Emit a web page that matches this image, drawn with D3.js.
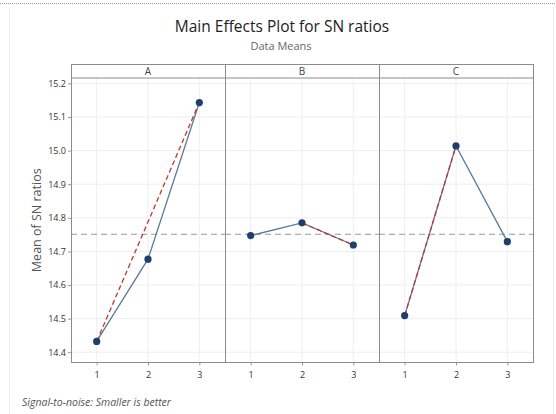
<!DOCTYPE html>
<html>
<head>
<meta charset="utf-8">
<script src="https://cdn.jsdelivr.net/npm/d3@7"></script>
<style>
  body { margin: 0; background: #fff; }
  text { font-family: "Open Sans", "Noto Sans", sans-serif; }
</style>
</head>
<body>
<div id="chart"></div>
<script>
// factors and levels
const factors = ["A", "B", "C"];
const levels = ["1", "2", "3"];

// mean SN ratio per level
const snA = [14.432, 14.677, 15.143];
const snB = [14.747, 14.785, 14.719];
const snC = [14.509, 15.014, 14.729];
const overallMean = 14.751;

// red dashed hand-drawn segments (from level, to level) per factor
const redSegA = ["1", "3"];
const redSegB = ["2", "3"];
const redSegC = ["1", "2"];

const yTicks = [14.4, 14.5, 14.6, 14.7, 14.8, 14.9, 15.0, 15.1, 15.2];

const width = 556, height = 414;
const left = 71, right = 533, stripTop = 64.5, plotTop = 78, plotBottom = 362.5;

const svg = d3.select("#chart").append("svg")
  .attr("width", width)
  .attr("height", height);

// outer frame bits
svg.append("line")
  .attr("x1", 0).attr("x2", width).attr("y1", 3.5).attr("y2", 3.5)
  .attr("stroke", "#999").attr("stroke-dasharray", "1,1");
svg.append("line")
  .attr("x1", 9.5).attr("x2", 9.5).attr("y1", 7).attr("y2", height)
  .attr("stroke", "#eee");
svg.append("line")
  .attr("x1", 553.5).attr("x2", 553.5).attr("y1", 7).attr("y2", height)
  .attr("stroke", "#eee");

const yScale = d3.scaleLinear()
  .domain([14.4 - 10.5 / 343, 15.2 + 5.5 / 343])
  .range([plotBottom, plotTop]);

const panel = d3.scaleBand()
  .domain(factors)
  .range([left, right]);

const xScale = d3.scalePoint()
  .domain(levels)
  .range([0, panel.bandwidth()])
  .padding(0.5);

const data = [
  { f: "A", vals: snA, red: redSegA },
  { f: "B", vals: snB, red: redSegB },
  { f: "C", vals: snC, red: redSegC }
];

// titles
svg.append("text")
  .attr("x", 282).attr("y", 32)
  .attr("text-anchor", "middle")
  .attr("font-size", 15.5)
  .attr("font-weight", 500)
  .attr("fill", "#222")
  .text("Main Effects Plot for SN ratios");

svg.append("text")
  .attr("x", 281).attr("y", 50)
  .attr("text-anchor", "middle")
  .attr("font-size", 11)
  .attr("fill", "#666")
  .text("Data Means");

svg.append("text")
  .attr("transform", `translate(41, ${(plotTop + plotBottom) / 2}) rotate(-90)`)
  .attr("text-anchor", "middle")
  .attr("font-size", 12.5)
  .attr("fill", "#555")
  .text("Mean of SN ratios");

svg.append("text")
  .attr("x", 22).attr("y", 406)
  .attr("font-size", 10.5)
  .attr("font-style", "italic")
  .attr("fill", "#555")
  .text("Signal-to-noise: Smaller is better");

// y axis
const yAxis = svg.append("g")
  .attr("transform", `translate(${left}, 0)`)
  .call(d3.axisLeft(yScale).tickValues(yTicks).tickFormat(d3.format(".1f")).tickSize(3));
yAxis.select(".domain").remove();
yAxis.selectAll("line").attr("stroke", "#999");
yAxis.selectAll("text")
  .attr("font-size", 9)
  .attr("fill", "#333")
  .attr("x", -5);

const panels = svg.selectAll(".panel")
  .data(data)
  .enter()
  .append("g")
  .attr("class", "panel")
  .attr("transform", d => `translate(${panel(d.f)}, 0)`);

// grid
panels.each(function() {
  const g = d3.select(this);
  g.selectAll(".hgrid")
    .data(yTicks)
    .enter()
    .append("line")
    .attr("x1", 0).attr("x2", panel.bandwidth())
    .attr("y1", d => yScale(d)).attr("y2", d => yScale(d))
    .attr("stroke", "#eeeeee");
  g.selectAll(".vgrid")
    .data(levels)
    .enter()
    .append("line")
    .attr("x1", d => xScale(d)).attr("x2", d => xScale(d))
    .attr("y1", plotTop).attr("y2", plotBottom)
    .attr("stroke", "#eeeeee");
});

// overall mean reference line
panels.append("line")
  .attr("x1", 0).attr("x2", panel.bandwidth())
  .attr("y1", yScale(overallMean)).attr("y2", yScale(overallMean))
  .attr("stroke", "#999")
  .attr("stroke-width", 1.2)
  .attr("stroke-dasharray", "6,4");

// x axis
panels.append("g")
  .attr("transform", `translate(0, ${plotBottom})`)
  .call(d3.axisBottom(xScale).tickSize(3))
  .call(g => g.select(".domain").remove())
  .call(g => g.selectAll("line").attr("stroke", "#999"))
  .call(g => g.selectAll("text").attr("font-size", 9).attr("fill", "#333").attr("dy", "1.1em"));

// main effect lines
const line = d3.line()
  .x((v, i) => xScale(levels[i]))
  .y(v => yScale(v));

panels.append("path")
  .attr("d", d => line(d.vals))
  .attr("fill", "none")
  .attr("stroke", "#5b7b96")
  .attr("stroke-width", 1.3);

// red dashed segments
panels.append("line")
  .attr("x1", d => xScale(d.red[0]))
  .attr("y1", d => yScale(d.vals[levels.indexOf(d.red[0])]))
  .attr("x2", d => xScale(d.red[1]))
  .attr("y2", d => yScale(d.vals[levels.indexOf(d.red[1])]))
  .attr("stroke", "#c0392b")
  .attr("stroke-width", 1.3)
  .attr("stroke-dasharray", "5,3");

// points
panels.selectAll(".pt")
  .data(d => d.vals.map((v, i) => ({ lv: levels[i], v })))
  .enter()
  .append("circle")
  .attr("cx", d => xScale(d.lv))
  .attr("cy", d => yScale(d.v))
  .attr("r", 3.6)
  .attr("fill", "#1d3f6e");

// panel frames and strips
panels.append("rect")
  .attr("x", 0.5).attr("y", stripTop)
  .attr("width", panel.bandwidth()).attr("height", plotBottom - stripTop)
  .attr("fill", "none")
  .attr("stroke", "#8c8c8c");

panels.append("line")
  .attr("x1", 0.5).attr("x2", panel.bandwidth() + 0.5)
  .attr("y1", plotTop).attr("y2", plotTop)
  .attr("stroke", "#8c8c8c");

panels.append("text")
  .attr("x", panel.bandwidth() / 2)
  .attr("y", plotTop - 3)
  .attr("text-anchor", "middle")
  .attr("font-size", 10)
  .attr("fill", "#444")
  .text(d => d.f);
</script>
</body>
</html>
